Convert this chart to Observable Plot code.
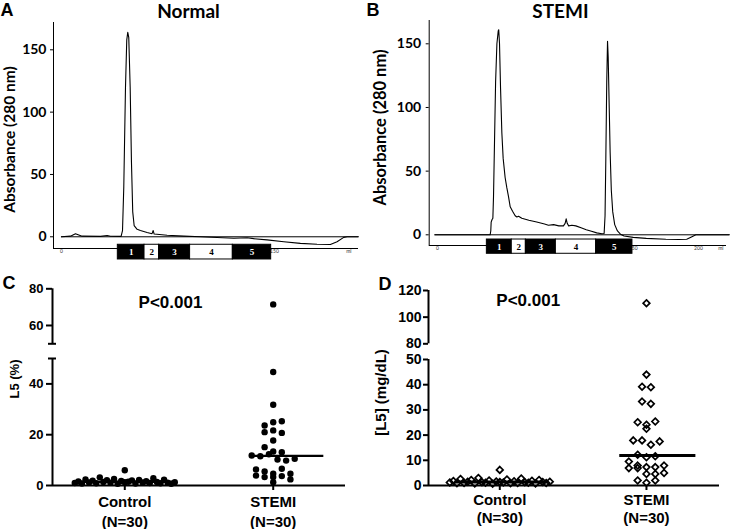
<!DOCTYPE html>
<html>
<head>
<meta charset="utf-8">
<script src="https://cdn.jsdelivr.net/npm/d3@7"></script>
<script src="https://cdn.jsdelivr.net/npm/@observablehq/plot@0.6"></script>
<style>
  body { margin: 0; background: #fff; }
  #fig { position: relative; width: 732px; height: 529px; background: #fff; overflow: hidden; }
  #fig > svg { position: absolute; }
</style>
</head>
<body>
<div id="fig"></div>
<script>
// ---------------- DATA ----------------
// Panel A: Normal LDL chromatogram  [elution volume (ml), absorbance at 280 nm]
const normalTrace = [
  [0,0],[6.3,0.5],[9.9,2.4],[12.2,1.5],[14.6,0.5],[27.5,0.3],[32.2,1.0],[34.5,0.4],[42,0.3],[43,5],
  [43.9,40],[45.1,120],[46,158],[46.7,164],[47.4,160],[48.4,120],[49.3,60],[50.2,20],[51.2,9],[53.3,6],
  [55.6,5],[60.3,3.5],[63.8,2.5],[64.6,5],[65.3,2.2],[74.4,1.2],[86.2,0.5],[97.9,0],[109.6,-0.6],[121.4,-1.2],
  [130.8,-0.8],[135.4,-1.5],[144.8,-2.5],[156.6,-4.0],[168.3,-5.3],[180,-6],[189.4,-6.2],[194.1,-4],[198.8,-0.5],
  [201.2,0],[209.2,0]
];
// Panel B: STEMI LDL chromatogram
const stemiTrace = [
  [-2,0],[40.3,0],[40.8,3],[41.1,10],[41.8,12],[42.4,13],[42.9,30],[43.7,75],[44.5,120],[45.5,150],
  [46.5,160],[46.9,161],[47.5,150],[48.3,115],[49.3,80],[50.3,60],[51.8,45],[53.1,37],[54.4,30],[55.7,22],
  [57.5,18.5],[59.5,15],[60.8,14],[62.1,14.5],[64.6,13],[70,11.5],[76,10],[82,8.5],[85,7.5],[89,8],
  [93,7],[96.5,7],[97.8,9],[98.6,12.5],[99.4,9],[100.5,7],[103,7.5],[106,7],[110,5.5],[114,4],
  [118,2.8],[122,1.5],[126,0.8],[127.7,1],[128.4,15],[129,60],[129.7,120],[130.3,152],[130.8,140],[131.6,100],
  [132.3,65],[133.2,35],[134.3,18],[135.8,8],[137.9,3],[140.2,0.5],[143,-1],[150,-2],[160,-2.8],[175,-3.5],
  [185,-3.7],[191,-3.5],[195,-1.5],[198,0],[223.8,0]
];
// Fractions L1..L5 (elution volume boundaries, ml)
const fractionNames = ["1", "2", "3", "4", "5"];
const normalFractionEdges = [39.7, 58.5, 68.8, 90.6, 120.7, 147.7];
const stemiFractionEdges = [37.8, 56.9, 67.7, 90.7, 121.6, 149.4];
const chromXTicks = [0, 150];
const stemiXTicks = [0, 150, 200];

// Panels C & D
const groupNames = ["Control", "STEMI"];
const l5PercentControl = [1.0, 1.6, 0.8, 2.4, 1.2, 1.9, 0.9, 3.2, 1.4, 2.1, 1.1, 2.6, 0.7, 1.8, 1.3,
  6.0, 1.5, 2.0, 0.8, 2.2, 1.2, 1.7, 1.0, 2.9, 1.4, 0.9, 2.3, 1.1, 0.7, 1.3];
const l5PercentStemi = [71.5, 44.7, 31.8, 23.6, 24.9, 25.3, 21.0, 21.7, 20.7, 17.7, 15.1, 11.8, 13.4, 13.1, 11.5,
  12.3, 10.2, 9.8, 10.5, 6.3, 3.9, 5.5, 3.3, 4.6, 1.3, 6.6, 3.3, 3.7, 4.6, 2.4];
const l5ConcControl = [1.2, 1.8, 0.9, 2.6, 1.0, 1.5, 2.2, 0.8, 3.0, 1.3, 1.1, 2.0, 0.7, 1.6, 1.4,
  6.2, 1.2, 2.4, 0.9, 1.7, 1.0, 2.8, 1.3, 1.1, 1.9, 0.8, 2.2, 1.4, 1.0, 1.5];
const l5ConcStemi = [110.5, 44.0, 39.2, 39.0, 33.3, 32.4, 25.1, 22.5, 24.1, 25.4, 17.9, 17.9, 16.2, 17.5, 12.2,
  11.2, 11.6, 9.5, 7.9, 6.9, 7.3, 6.9, 7.3, 7.9, 4.6, 4.6, 5.0, 2.0, 1.1, 2.0];
const l5PercentTicks = [0, 20, 40, 60, 80];
const l5ConcTicks = [0, 10, 20, 30, 40, 50, 80, 100, 120];
const pText = "P<0.001";

// ---------------- HELPERS ----------------
const fig = document.getElementById("fig");
function place(svg, left, top) {
  svg.style.left = left + "px";
  svg.style.top = top + "px";
  fig.appendChild(svg);
}

function chromPanel(cfg) {
  const fr = fractionNames.map((name, i) => ({
    name, x1: cfg.edges[i], x2: cfg.edges[i + 1], dark: i % 2 === 0
  }));
  const [b0, b1] = cfg.boxBand;
  const xs = cfg.trace.map(d => d[0]);
  return Plot.plot({
    width: cfg.width, height: cfg.height,
    marginLeft: cfg.mL, marginRight: cfg.mR, marginTop: cfg.mT, marginBottom: cfg.mB,
    x: {domain: cfg.xDomain},
    y: {domain: cfg.yDomain},
    style: {fontFamily: "Lato, 'Open Sans', sans-serif", background: "transparent", overflow: "visible", color: "#000"},
    marks: [
      Plot.ruleY([0], {x1: () => d3.min(xs), x2: () => d3.max(xs), stroke: "#000", strokeWidth: 1}),
      Plot.line(cfg.trace, {x: d => d[0], y: d => d[1], stroke: "#000", strokeWidth: 1.1}),
      Plot.ruleX([cfg.xDomain[0]], {stroke: "#000", strokeWidth: 1}),
      Plot.ruleY([cfg.yDomain[0]], {stroke: "#000", strokeWidth: 1}),
      Plot.axisY({ticks: [0, 50, 100, 150], tickSize: 3, tickPadding: cfg.tickPad, fontSize: 14, fontWeight: "bold", label: null}),
      Plot.axisX({ticks: cfg.xTicks, tickSize: 0, tickPadding: 1, fontSize: 5, fill: "#333", label: null}),
      Plot.text(["ml"], {frameAnchor: "bottom-right", textAnchor: "end", lineAnchor: "top", dx: cfg.mlDx, dy: 1, fontSize: 5, fill: "#333"}),
      Plot.rect(fr, {x1: "x1", x2: "x2", y1: () => b0, y2: () => b1, fill: d => d.dark ? "#000" : "#fff", stroke: "#000", strokeWidth: 1}),
      Plot.text(fr, {x: d => (d.x1 + d.x2) / 2, y: () => (b0 + b1) / 2, text: "name", fill: d => d.dark ? "#fff" : "#000",
        fontFamily: "'Liberation Serif', 'DejaVu Serif', serif", fontSize: 9, fontWeight: "bold"}),
      Plot.text([cfg.yLabel], {frameAnchor: "left", rotate: -90, textAnchor: "middle", lineAnchor: "top",
        dx: cfg.yLabelDx, dy: cfg.yLabelDy, fontSize: cfg.yLabelSize, fontWeight: "bold"}),
      Plot.text([cfg.title], {frameAnchor: "top", textAnchor: "middle", lineAnchor: "middle", dx: cfg.titleDx, dy: cfg.titleDy,
        fontSize: 19, fontWeight: "bold"}),
      Plot.text([cfg.letter], {frameAnchor: "top-left", textAnchor: "start", lineAnchor: "middle", dx: cfg.letterDx, dy: cfg.letterDy,
        fontSize: 18, fontWeight: "bold", fontFamily: "'Liberation Sans', Arial, sans-serif"})
    ]
  });
}

function columnLayout(values, yPix, {bin, spacing, maxHalf}) {
  const items = values.map((v, i) => ({v, i, py: yPix(v), off: 0}));
  const order = items.slice().sort((a, b) => a.py - b.py);
  const rows = [];
  for (const it of order) {
    const row = rows[rows.length - 1];
    if (row && it.py - row[0].py <= bin) row.push(it); else rows.push([it]);
  }
  for (const row of rows) {
    row.sort((a, b) => a.i - b.i);
    const n = row.length;
    const sp = n > 1 ? Math.min(spacing, (2 * maxHalf) / (n - 1)) : 0;
    row.forEach((it, k) => (it.off = (k - (n - 1) / 2) * sp));
  }
  return items;
}

function scatterPanel(cfg) {
  const yPix = d3.scaleLinear().domain(cfg.yDomain).range(cfg.yRange);
  const frameL = cfg.mL, frameR = cfg.width - cfg.mR;
  const pxPerUnit = (frameR - frameL) / (cfg.xDomain[1] - cfg.xDomain[0]);
  const sets = [cfg.control, cfg.stemi];
  const pts = sets.flatMap((vals, gi) =>
    columnLayout(vals, yPix, {bin: cfg.bin, spacing: cfg.spacing, maxHalf: cfg.maxHalf[gi]})
      .map(p => ({x: gi + p.off / pxPerUnit, value: p.v})));
  const meds = sets.map((vals, gi) => ({m: d3.median(vals), x1: gi + cfg.medSpan[gi][0], x2: gi + cfg.medSpan[gi][1]}));
  const dotOpts = cfg.diamond
    ? {x: "x", y: "value", symbol: "diamond2", r: 3, stroke: "#000", strokeWidth: 1.7, fill: "none"}
    : {x: "x", y: "value", r: 3.2, fill: "#000"};
  return Plot.plot({
    width: cfg.width, height: cfg.height,
    marginLeft: cfg.mL, marginRight: cfg.mR, marginTop: cfg.mT, marginBottom: cfg.mB,
    x: {domain: cfg.xDomain},
    y: {type: "linear", domain: cfg.yDomain, range: cfg.yRange},
    style: {fontFamily: "'Liberation Sans', Arial, sans-serif", background: "transparent", overflow: "visible", color: "#000"},
    marks: [
      Plot.ruleY([0], {stroke: "#000", strokeWidth: 2}),
      Plot.ruleX(cfg.segments, {x: () => cfg.xDomain[0], y1: d => d[0], y2: d => d[1], stroke: "#000", strokeWidth: 2}),
      Plot.dot(pts, dotOpts),
      Plot.ruleY(meds, {y: "m", x1: "x1", x2: "x2", stroke: "#000", strokeWidth: cfg.medWidth}),
      Plot.axisY({ticks: cfg.yTicks, tickSize: cfg.tickSize, tickPadding: cfg.tickPad, strokeWidth: 2,
        fontSize: cfg.tickFont, fontWeight: "bold", label: null}),
      ...(cfg.caps.length ? [
        Plot.axisY({ticks: cfg.caps, tickSize: 4, strokeWidth: 2, fill: "none", label: null}),
        Plot.axisY({ticks: cfg.caps, tickSize: -4, strokeWidth: 2, fill: "none", label: null})
      ] : []),
      Plot.axisX({ticks: [0, 1], tickSize: 5, tickPadding: 2, strokeWidth: 2,
        tickFormat: i => `${groupNames[i]}\n(N=${sets[i].length})`,
        lineHeight: cfg.lineHeight, fontSize: 15, fontWeight: "bold", label: null}),
      Plot.text([cfg.yLabel], {frameAnchor: "left", rotate: -90, textAnchor: "middle", lineAnchor: "top",
        dx: cfg.yLabelDx, dy: cfg.yLabelDy, fontSize: cfg.yLabelSize, fontWeight: "bold"}),
      Plot.text([pText], {frameAnchor: "top-left", textAnchor: "middle", lineAnchor: "middle", dx: cfg.pDx, dy: cfg.pDy,
        fontSize: 17, fontWeight: "bold"}),
      Plot.text([cfg.letter], {frameAnchor: "top-left", textAnchor: "start", lineAnchor: "middle", dx: cfg.letterDx, dy: cfg.letterDy,
        fontSize: 18, fontWeight: "bold"})
    ]
  });
}

// ---------------- PANELS ----------------
place(chromPanel({
  trace: normalTrace, edges: normalFractionEdges, boxBand: [-6.4, -18.2],
  width: 366, height: 265, mL: 53, mR: 8, mT: 22, mB: 17,
  xDomain: [-5.6, 209.2], yDomain: [-9.4, 171.9], xTicks: chromXTicks, tickPad: 4, mlDx: -7,
  yLabel: "Absorbance (280 nm)", yLabelDx: -50, yLabelDy: 4, yLabelSize: 15.5,
  title: "Normal", titleDx: -17.5, titleDy: -10.5,
  letter: "A", letterDx: -53, letterDy: -12.3
}), 0, 0);

place(chromPanel({
  trace: stemiTrace, edges: stemiFractionEdges, boxBand: [-3.7, -14.9],
  width: 366, height: 265, mL: 62.7, mR: 6, mT: 20, mB: 20,
  xDomain: [-6.4, 221.5], yDomain: [-8.4, 168.3], xTicks: stemiXTicks, tickPad: 5, mlDx: -3,
  yLabel: "Absorbance (280 nm)", yLabelDx: -55.4, yLabelDy: -5.5, yLabelSize: 16.5,
  title: "STEMI", titleDx: -17.4, titleDy: -8.4,
  letter: "B", letterDx: -62.7, letterDy: -10.3
}), 366, 0);

place(scatterPanel({
  control: l5PercentControl, stemi: l5PercentStemi, diamond: false,
  width: 366, height: 264, mL: 52, mR: 21, mT: 23, mB: 44,
  xDomain: [-0.487, 1.487],
  yDomain: [0, 50, 50.01, 80], yRange: [220, 93, 78.3, 23.3],
  segments: [[0, 50], [50.01, 80]], caps: [50, 50.01],
  yTicks: l5PercentTicks, tickSize: 6, tickPad: 3, tickFont: 13,
  bin: 6.5, spacing: 8.6, maxHalf: [50, 60],
  medSpan: [[-0.325, 0.342], [-0.131, 0.341]], medWidth: 2.2, lineHeight: 1.35,
  yLabel: "L5 (%)", yLabelDx: -43, yLabelDy: -8, yLabelSize: 13,
  pDx: 118, pDy: 14.5,
  letter: "C", letterDx: -50, letterDy: -5
}), 0, 265);

place(scatterPanel({
  control: l5ConcControl, stemi: l5ConcStemi, diamond: true,
  width: 366, height: 264, mL: 62, mR: 13, mT: 25, mB: 44,
  xDomain: [-0.486, 1.498],
  yDomain: [0, 50, 80, 120], yRange: [220, 94, 78.3, 25],
  segments: [[0, 50], [80, 120]], caps: [],
  yTicks: l5ConcTicks, tickSize: 5, tickPad: 2, tickFont: 14,
  bin: 6.5, spacing: 8.8, maxHalf: [50, 60],
  medSpan: [[-0.307, 0.33], [-0.182, 0.337]], medWidth: 3, lineHeight: 1.2,
  yLabel: "[L5] (mg/dL)", yLabelDx: -52.7, yLabelDy: 4.5, yLabelSize: 15,
  pDx: 99.7, pDy: 10.5,
  letter: "D", letterDx: -50, letterDy: -6.5
}), 366, 265);
</script>
</body>
</html>
